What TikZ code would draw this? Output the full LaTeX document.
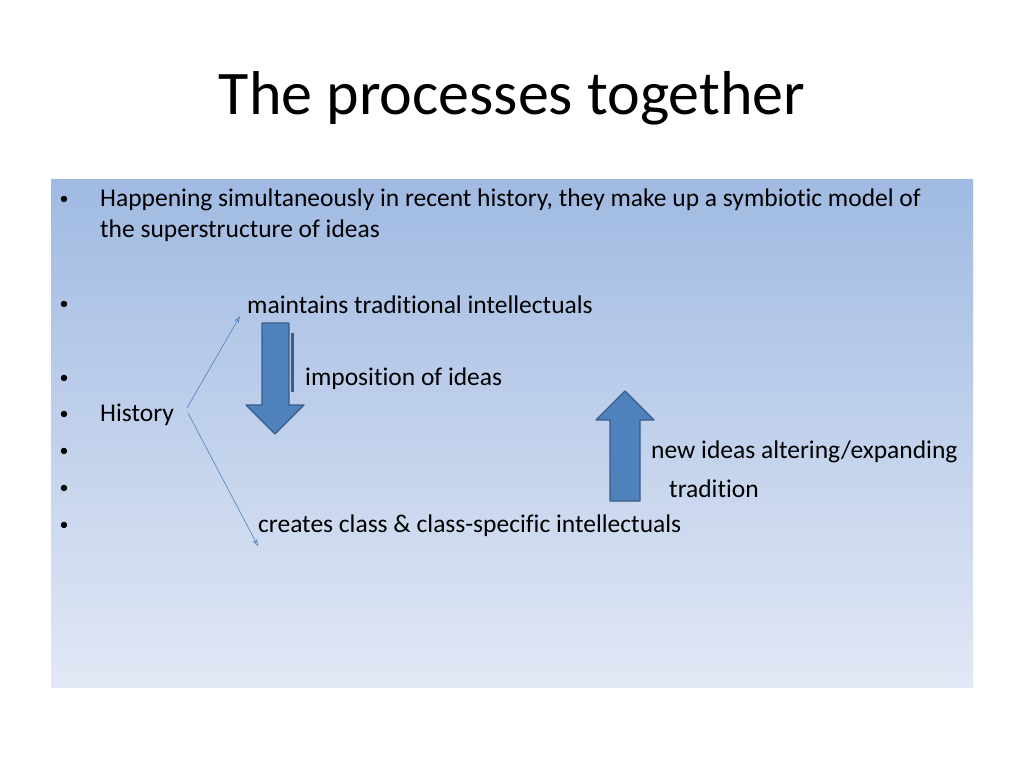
\documentclass[tikz,border=0pt]{standalone}
\usepackage{fontspec}
\setmainfont{Carlito}[Ligatures=NoCommon]
\usetikzlibrary{arrows.meta}
\definecolor{boxtop}{RGB}{160,186,226}
\definecolor{boxbot}{RGB}{226,232,245}
\definecolor{arrowfill}{RGB}{79,129,189}
\definecolor{arrowline}{RGB}{56,93,138}
\tikzset{
  body/.style={font=\fontsize{25.5}{30}\selectfont, inner sep=0pt, anchor=west},
  bullet/.style={font=\fontsize{18}{22}\selectfont, inner sep=0pt},
  thinarrow/.style={draw=arrowfill, line width=0.6pt, -{Stealth[length=7pt,width=5pt,open]}},
  bigarrow/.style={draw=arrowline, fill=arrowfill, line width=1.2pt, line join=round}
}
\begin{document}
\begin{tikzpicture}[x=1pt,y=-1pt]
\useasboundingbox (0,0) rectangle (1024,768);
\fill[white] (0,0) rectangle (1024,768);
\shade[top color=boxtop, bottom color=boxbot] (51,179) rectangle (973,687);
\node[font=\fontsize{62}{70}\selectfont, inner sep=0pt] (title) at (512,98) {The processes together};
% bullets
\foreach \y in {200,305,379,415,452,489,526}
  \node[bullet] at (64,\y) {•};
\node[body] (intro) at (100,200) {Happening simultaneously in recent history, they make up a symbiotic model of};
\node[body] (intro2) at (100,231) {the superstructure of ideas};
\node[body] (maint) at (247,305) {maintains traditional intellectuals};
\node[body] (impos) at (305,379) {imposition of ideas};
\node[body] (hist) at (100,415) {History};
\node[body] (newid) at (651,452) {new ideas altering/expanding};
\node[body] (trad) at (669,489) {tradition};
\node[body] (creat) at (258,526) {creates class \& class-specific intellectuals};
% thin arrows
\coordinate (hup) at (187,408);
\coordinate (hdn) at (188,413);
\draw[thinarrow] (hup) -- (240,316);
\draw[thinarrow] (hdn) -- (258,546);
% big arrows
\draw[arrowline, line width=3pt] (292,333) -- (292,392);
\draw[bigarrow] (262,323) -- (289,323) -- (289,405) -- (304,405) -- (275,434)
  -- (246,405) -- (262,405) -- cycle;
\draw[bigarrow] (610,501) -- (640,501) -- (640,420) -- (654,420) -- (625,391)
  -- (596,420) -- (610,420) -- cycle;
\end{tikzpicture}
\end{document}
